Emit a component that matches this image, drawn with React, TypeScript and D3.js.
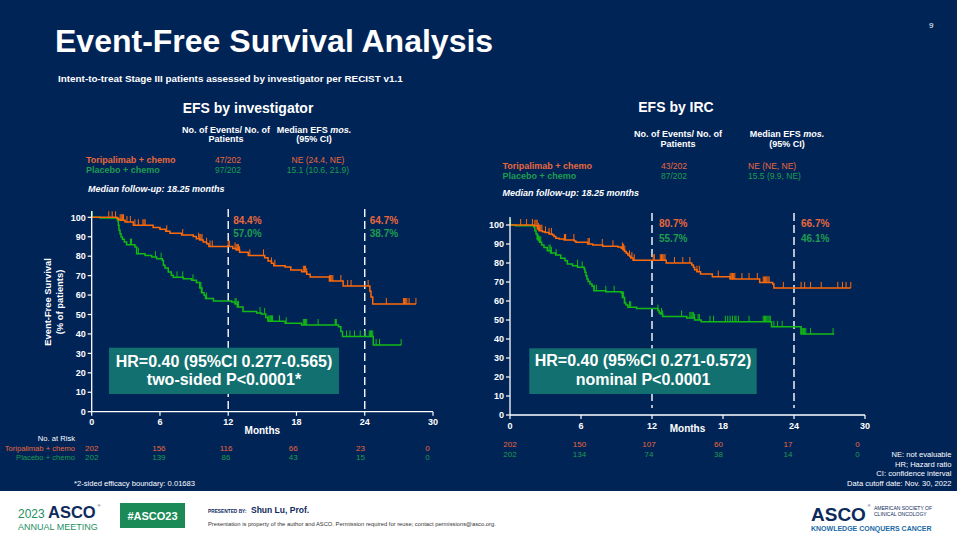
import React from "react";
import * as d3 from "d3";

const W = 957;
const H = 538;
const FONT = "'Liberation Sans', Arial, Helvetica, sans-serif";

const NAVY = "#012457";
const ORANGE_LINE = "#ff6a0a";
const GREEN_LINE = "#14ba14";
const ORANGE_TXT = "#e8683c";
const GREEN_TXT = "#1f9c4f";
const TEAL = "#137070";

const monthTicks = [0, 6, 12, 18, 24, 30];
const pctTicks = [0, 10, 20, 30, 40, 50, 60, 70, 80, 90, 100];
const landmarkMonths = [12, 24];

// ---------- EFS by investigator ----------
const invToriSteps: [number, number][] = [
  [0, 100], [2.2, 99.7], [2.34, 99], [2.49, 98.5], [2.93, 97.6], [3.66, 95.9], [5.4, 94.7], [6.0, 93.8],
  [6.5, 92.8], [6.88, 91.8], [7.9, 90.9], [8.93, 90.1], [9.2, 89], [9.5, 88.3], [9.8, 87.3], [10.1, 86.4],
  [10.3, 85.0], [12.4, 84.0], [12.7, 83.2], [13.0, 82.0], [13.76, 80.4], [15.2, 79.2], [15.5, 77.5],
  [15.8, 76.3], [16.0, 75.1], [17.0, 74.4], [17.5, 72.9], [18.45, 72.0], [18.9, 70.7], [19.2, 69.3],
  [20.9, 67.2], [22.1, 64.7], [24.45, 62.0], [24.55, 59.0], [24.7, 55.4], [28.5, 55.4],
];
const invPlaceboSteps: [number, number][] = [
  [0, 100], [0.74, 99.6], [2.25, 98.5], [2.34, 95.9], [2.4, 93.3], [2.49, 91.6], [2.58, 89.9], [2.7, 88.7],
  [2.87, 87.3], [3.07, 85.9], [3.8, 84.7], [3.95, 81.3], [4.69, 80.4], [5.27, 79.6], [5.71, 78.7], [6.2, 77.9],
  [6.3, 75.3], [6.44, 73.9], [6.73, 71.9], [7.0, 70.2], [7.17, 69.1], [8.05, 68.4], [8.78, 67.6], [9.2, 66.4],
  [9.5, 63.6], [9.65, 61.2], [9.88, 59.9], [10.0, 58.2], [10.7, 57.0], [12.3, 56.4], [12.6, 55.4], [12.8, 53.9],
  [13.3, 51.6], [14.5, 50.8], [14.9, 50.2], [15.3, 48.4], [15.5, 46.5], [17.0, 45.5], [18.45, 44.6],
  [21.7, 43.7], [21.9, 41.2], [22.05, 38.7], [24.75, 34.3], [27.2, 34.3],
];
const invToriCensor = [
  1.5, 1.8, 2.1, 2.5, 2.6, 2.7, 2.8, 3.1, 3.4, 3.8, 4.1, 4.5, 4.6, 4.7, 6.6, 8.0, 9.4, 9.5, 9.6, 9.7, 10.1,
  10.4, 10.6, 12.0, 12.1, 12.6, 12.7, 12.8, 12.9, 13.0, 13.9, 15.1, 15.8, 16.1, 18.6, 18.7, 18.8, 18.9, 20.9,
  21.0, 21.1, 21.2, 21.9, 22.5, 22.8, 24.3, 25.9, 27.4, 27.5, 27.6, 27.7, 27.9, 28.5,
];
const invPlaceboCensor = [
  0.05, 3.4, 3.45, 3.5, 4.1, 5.6, 6.1, 7.5, 8.0, 8.9, 9.5, 9.6, 9.7, 10.1, 12.6, 12.7, 12.8, 12.9, 14.8, 15.2,
  15.5, 15.6, 15.7, 15.8, 15.9, 16.5, 17.1, 18.6, 18.7, 18.8, 18.9, 19.9, 21.4, 21.45, 21.5, 22.4, 22.7, 23.1,
  23.6, 24.0, 24.4, 24.5, 24.6, 24.7, 25.0, 25.3, 27.2,
];
const invLandmarkTori = ["84.4%", "64.7%"];
const invLandmarkPlacebo = ["57.0%", "38.7%"];
const invAtRiskTori = [202, 156, 116, 66, 23, 0];
const invAtRiskPlacebo = [202, 139, 86, 43, 15, 0];
const invHr = ["HR=0.40 (95%CI 0.277-0.565)", "two-sided P<0.0001*"];

// ---------- EFS by IRC ----------
const ircToriSteps: [number, number][] = [
  [0, 100], [2.03, 99.6], [2.31, 97.9], [2.45, 97], [2.74, 96.5], [2.96, 96.1], [3.3, 95.3], [3.58, 94.7],
  [3.72, 94], [3.87, 93], [4.15, 92.6], [4.58, 92.1], [5.43, 91.6], [5.57, 90.9], [6.56, 90], [6.99, 89.5],
  [7.84, 88.8], [9.11, 88.4], [9.4, 87.7], [9.53, 87], [9.67, 86], [9.82, 85.1], [9.96, 84.2], [10.1, 83.5],
  [10.2, 82.6], [10.4, 81.5], [13.2, 80.0], [15.36, 79], [15.5, 77.7], [15.6, 76.5], [15.8, 75.4],
  [16.1, 74.2], [17.1, 72.8], [18.6, 71.6], [21.1, 69.8], [22.2, 69], [22.3, 66.9], [28.8, 66.9],
];
const ircPlaceboSteps: [number, number][] = [
  [0, 100], [0.47, 99.6], [2.03, 98.8], [2.1, 97], [2.2, 95.3], [2.3, 92.6], [2.4, 91.8], [2.5, 90.9],
  [2.67, 89.5], [2.87, 88.2], [3.15, 86.5], [3.43, 85.3], [3.86, 84.2], [4.29, 82.5], [4.65, 81.2],
  [4.85, 79.5], [5.28, 78.6], [5.71, 77.7], [6.27, 76.8], [6.33, 75.1], [6.42, 73.3], [6.5, 71.6], [6.6, 70.2],
  [6.76, 68.9], [6.93, 67.7], [7.1, 65.4], [8.1, 64.9], [9.4, 64.2], [9.5, 61.9], [9.67, 58.9], [9.8, 57.9],
  [9.96, 56.7], [10.7, 56.0], [12.5, 55.0], [12.6, 54.0], [12.7, 53.2], [12.9, 51.9], [14.94, 51.1],
  [15.6, 50], [16.15, 49.1], [22.1, 46.4], [24.6, 42.6], [27.4, 42.6],
];
const ircToriCensor = [
  0.9, 1.4, 1.9, 2.1, 2.2, 2.3, 2.4, 2.5, 2.6, 2.7, 3.0, 3.3, 3.5, 4.6, 4.65, 4.7, 5.4, 6.6, 6.7, 7.8, 8.7, 9.5,
  9.6, 9.7, 10.1, 10.3, 10.5, 12.1, 12.2, 12.7, 12.8, 12.9, 13.0, 13.1, 13.9, 14.6, 15.2, 15.8, 16.0, 17.6,
  18.6, 18.7, 18.8, 18.9, 19.0, 19.6, 20.2, 20.9, 21.4, 21.5, 21.6, 21.7, 21.8, 21.9, 23.1, 24.6, 24.9, 25.4,
  26.3, 27.7, 28.1, 28.4, 28.8,
];
const ircPlaceboCensor = [
  0.05, 2.4, 2.5, 2.6, 3.3, 3.4, 3.5, 3.9, 5.7, 6.1, 7.1, 7.3, 8.1, 8.8, 9.5, 9.6, 9.7, 10.1, 10.2, 12.5, 12.8,
  12.9, 14.5, 15.2, 15.3, 15.4, 15.5, 15.6, 15.9, 16.0, 16.9, 17.2, 18.2, 18.4, 18.6, 18.8, 19.0, 19.1, 19.3,
  20.2, 21.4, 21.5, 21.6, 21.7, 21.8, 21.9, 22.0, 22.3, 22.6, 23.0, 24.6, 24.7, 24.8, 24.9, 25.0, 25.4, 27.3,
];
const ircLandmarkTori = ["80.7%", "66.7%"];
const ircLandmarkPlacebo = ["55.7%", "46.1%"];
const ircAtRiskTori = [202, 150, 107, 60, 17, 0];
const ircAtRiskPlacebo = [202, 134, 74, 38, 14, 0];
const ircHr = ["HR=0.40 (95%CI 0.271-0.572)", "nominal P<0.0001"];

const survAt = (steps: [number, number][], t: number) => {
  let s = steps[0][1];
  for (const [m, v] of steps) {
    if (m <= t + 1e-9) s = v;
    else break;
  }
  return s;
};

type PanelProps = {
  xr: [number, number];
  yr: [number, number];
  axisTop: number;
  dashTop: number;
  dashBottom: number;
  tori: [number, number][];
  placebo: [number, number][];
  toriC: number[];
  placeboC: number[];
  lmTori: string[];
  lmPlacebo: string[];
  lmY: [number, number];
  lmDx: number;
  hr: string[];
  box: { x: number; y: number; w: number; h: number; b1: number; b2: number };
  monthsY: number;
  atTori: number[];
  atPlacebo: number[];
  atY: [number, number];
  atShift: number;
};

function Panel(p: PanelProps) {
  const x = d3.scaleLinear().domain([0, 30]).range(p.xr);
  const y = d3.scaleLinear().domain([0, 100]).range(p.yr);
  const line = d3
    .line<[number, number]>()
    .x((d) => x(d[0]))
    .y((d) => y(d[1]))
    .curve(d3.curveStepAfter);
  const censor = (steps: [number, number][], cs: number[], color: string) =>
    cs.map((c, i) => {
      const yy = y(survAt(steps, c));
      return <line key={i} x1={x(c)} x2={x(c)} y1={yy} y2={yy - 6} stroke={color} strokeWidth={1} />;
    });
  const x0 = p.xr[0];
  const yBase = p.yr[0];
  return (
    <g>
      {landmarkMonths.map((m) => (
        <line key={m} x1={x(m)} x2={x(m)} y1={p.dashTop} y2={p.dashBottom} stroke="#fff" strokeWidth={1.4} strokeDasharray="8,4" />
      ))}
      <rect x={p.box.x} y={p.box.y} width={p.box.w} height={p.box.h} fill={TEAL} />
      <text x={p.box.x + p.box.w / 2} y={p.box.b1} textAnchor="middle" fill="#fff" fontSize={16} fontWeight="bold">{p.hr[0]}</text>
      <text x={p.box.x + p.box.w / 2} y={p.box.b2} textAnchor="middle" fill="#fff" fontSize={16} fontWeight="bold">{p.hr[1]}</text>
      <path d={line(p.placebo) || ""} fill="none" stroke={GREEN_LINE} strokeWidth={1.5} />
      {censor(p.placebo, p.placeboC, GREEN_LINE)}
      <path d={line(p.tori) || ""} fill="none" stroke={ORANGE_LINE} strokeWidth={1.5} />
      {censor(p.tori, p.toriC, ORANGE_LINE)}
      <line x1={x0} x2={x0} y1={p.axisTop} y2={yBase} stroke="#fff" strokeWidth={1.3} />
      <line x1={x0} x2={p.xr[1]} y1={yBase} y2={yBase} stroke="#fff" strokeWidth={1.3} />
      {pctTicks.map((t) => (
        <g key={t}>
          <line x1={x0 - 4} x2={x0} y1={y(t)} y2={y(t)} stroke="#fff" strokeWidth={1.2} />
          <text x={x0 - 6} y={y(t) + 3.2} textAnchor="end" fill="#fff" fontSize={9} fontWeight="bold">{t}</text>
        </g>
      ))}
      {monthTicks.map((t) => (
        <g key={t}>
          <line x1={x(t)} x2={x(t)} y1={yBase} y2={yBase + 4} stroke="#fff" strokeWidth={1.2} />
          <text x={x(t)} y={yBase + 13.5} textAnchor="middle" fill="#fff" fontSize={9} fontWeight="bold">{t}</text>
        </g>
      ))}
      <text x={x(12) + 0.5 * (x(18) - x(12))} y={p.monthsY} textAnchor="middle" fill="#fff" fontSize={10} fontWeight="bold">Months</text>
      {landmarkMonths.map((m, i) => (
        <g key={m}>
          <text x={x(m) + p.lmDx} y={p.lmY[0]} fill={ORANGE_TXT} fontSize={10} fontWeight="bold">{p.lmTori[i]}</text>
          <text x={x(m) + p.lmDx} y={p.lmY[1]} fill={GREEN_TXT} fontSize={10} fontWeight="bold">{p.lmPlacebo[i]}</text>
        </g>
      ))}
      {monthTicks.map((m, i) => (
        <g key={m}>
          <text x={x(m) - m * p.atShift} y={p.atY[0]} textAnchor="middle" fill={ORANGE_TXT} fontSize={8}>{p.atTori[i]}</text>
          <text x={x(m) - m * p.atShift} y={p.atY[1]} textAnchor="middle" fill={GREEN_TXT} fontSize={8}>{p.atPlacebo[i]}</text>
        </g>
      ))}
    </g>
  );
}

export default function App() {
  return (
    <svg
      width={W}
      height={H}
      viewBox={`0 0 ${W} ${H}`}
      style={{ position: "absolute", left: 0, top: 0, display: "block" }}
      fontFamily={FONT}
    >
      <rect x={0} y={0} width={W} height={H} fill={NAVY} />
      <text x={55} y={51.5} fill="#fff" fontSize={32} fontWeight="bold">Event-Free Survival Analysis</text>
      <text x={929} y={28} fill="#fff" fontSize={8}>9</text>
      <text x={58} y={81.5} fill="#fff" fontSize={9.9} fontWeight="bold">Intent-to-treat Stage III patients assessed by investigator per RECIST v1.1</text>

      {/* Left header table */}
      <text x={248} y={113.3} textAnchor="middle" fill="#fff" fontSize={14} fontWeight="bold">EFS by investigator</text>
      <text x={226} y={132.7} textAnchor="middle" fill="#fff" fontSize={9} fontWeight="bold">No. of Events/ No. of</text>
      <text x={226} y={141.7} textAnchor="middle" fill="#fff" fontSize={9} fontWeight="bold">Patients</text>
      <text x={314} y={132.7} textAnchor="middle" fill="#fff" fontSize={9} fontWeight="bold">Median EFS <tspan fontStyle="italic">mos.</tspan></text>
      <text x={314} y={141.7} textAnchor="middle" fill="#fff" fontSize={9} fontWeight="bold">(95% CI)</text>
      <text x={86} y={163.3} fill={ORANGE_TXT} fontSize={9} fontWeight="bold">Toripalimab + chemo</text>
      <text x={86} y={173.3} fill={GREEN_TXT} fontSize={9} fontWeight="bold">Placebo + chemo</text>
      <text x={228} y={163.3} textAnchor="middle" fill={ORANGE_TXT} fontSize={8.5}>47/202</text>
      <text x={228} y={173.3} textAnchor="middle" fill={GREEN_TXT} fontSize={8.5}>97/202</text>
      <text x={318} y={163.3} textAnchor="middle" fill={ORANGE_TXT} fontSize={8.5}>NE (24.4, NE)</text>
      <text x={318} y={173.3} textAnchor="middle" fill={GREEN_TXT} fontSize={8.5}>15.1 (10.6, 21.9)</text>
      <text x={88} y={191.7} fill="#fff" fontSize={9} fontWeight="bold" fontStyle="italic">Median follow-up: 18.25 months</text>

      {/* Right header table */}
      <text x={676} y={111.7} textAnchor="middle" fill="#fff" fontSize={14} fontWeight="bold">EFS by IRC</text>
      <text x={678} y={136.7} textAnchor="middle" fill="#fff" fontSize={9} fontWeight="bold">No. of Events/ No. of</text>
      <text x={678} y={146.7} textAnchor="middle" fill="#fff" fontSize={9} fontWeight="bold">Patients</text>
      <text x={787} y={136.7} textAnchor="middle" fill="#fff" fontSize={9} fontWeight="bold">Median EFS <tspan fontStyle="italic">mos.</tspan></text>
      <text x={787} y={146.7} textAnchor="middle" fill="#fff" fontSize={9} fontWeight="bold">(95% CI)</text>
      <text x={502.5} y={169.3} fill={ORANGE_TXT} fontSize={9} fontWeight="bold">Toripalimab + chemo</text>
      <text x={502.5} y={179.3} fill={GREEN_TXT} fontSize={9} fontWeight="bold">Placebo + chemo</text>
      <text x={674} y={169.3} textAnchor="middle" fill={ORANGE_TXT} fontSize={8.5}>43/202</text>
      <text x={674} y={179.3} textAnchor="middle" fill={GREEN_TXT} fontSize={8.5}>87/202</text>
      <text x={748} y={169.3} fill={ORANGE_TXT} fontSize={8.5}>NE (NE, NE)</text>
      <text x={748} y={179.3} fill={GREEN_TXT} fontSize={8.5}>15.5 (9.9, NE)</text>
      <text x={502.5} y={196} fill="#fff" fontSize={9} fontWeight="bold" fontStyle="italic">Median follow-up: 18.25 months</text>

      {/* Left panel */}
      <text transform="translate(50.5,302) rotate(-90)" textAnchor="middle" fill="#fff" fontSize={9.4} fontWeight="bold">Event-Free Survival</text>
      <text transform="translate(63,302) rotate(-90)" textAnchor="middle" fill="#fff" fontSize={9.4} fontWeight="bold">(% of patients)</text>
      <Panel
        xr={[91.7, 433]}
        yr={[411.7, 217.3]}
        axisTop={211}
        dashTop={209}
        dashBottom={411}
        tori={invToriSteps}
        placebo={invPlaceboSteps}
        toriC={invToriCensor}
        placeboC={invPlaceboCensor}
        lmTori={invLandmarkTori}
        lmPlacebo={invLandmarkPlacebo}
        lmY={[224, 237]}
        lmDx={5}
        hr={invHr}
        box={{ x: 109, y: 347.7, w: 230, h: 46.3, b1: 366.5, b2: 385 }}
        monthsY={433.5}
        atTori={invAtRiskTori}
        atPlacebo={invAtRiskPlacebo}
        atY={[450.7, 460]}
        atShift={0.18}
      />
      <text x={75} y={441} textAnchor="end" fill="#fff" fontSize={7.6}>No. at Risk</text>
      <text x={75} y={450.7} textAnchor="end" fill={ORANGE_TXT} fontSize={7.6}>Toripalimab + chemo</text>
      <text x={75} y={460} textAnchor="end" fill={GREEN_TXT} fontSize={7.6}>Placebo + chemo</text>
      <text x={74} y={486} fill="#fff" fontSize={7.6}>*2-sided efficacy boundary: 0.01683</text>

      {/* Right panel */}
      <Panel
        xr={[510, 865]}
        yr={[415, 225]}
        axisTop={217}
        dashTop={213}
        dashBottom={408}
        tori={ircToriSteps}
        placebo={ircPlaceboSteps}
        toriC={ircToriCensor}
        placeboC={ircPlaceboCensor}
        lmTori={ircLandmarkTori}
        lmPlacebo={ircLandmarkPlacebo}
        lmY={[227, 242]}
        lmDx={7}
        hr={ircHr}
        box={{ x: 529.3, y: 348.3, w: 227.4, h: 45.7, b1: 365.5, b2: 385 }}
        monthsY={432}
        atTori={ircAtRiskTori}
        atPlacebo={ircAtRiskPlacebo}
        atY={[447.3, 456.7]}
        atShift={0.25}
      />
      <text x={951.5} y={457.3} textAnchor="end" fill="#fff" fontSize={7.6}>NE: not evaluable</text>
      <text x={951.5} y={466.7} textAnchor="end" fill="#fff" fontSize={7.6}>HR; Hazard ratio</text>
      <text x={951.5} y={476.3} textAnchor="end" fill="#fff" fontSize={7.6}>CI: confidence interval</text>
      <text x={951.5} y={486} textAnchor="end" fill="#fff" fontSize={7.6}>Data cutoff date: Nov. 30, 2022</text>

      {/* Footer */}
      <rect x={0} y={491} width={W} height={H - 491} fill="#fff" />
      <text x={18} y={518} fill="#1d8f5f" fontSize={12}>2023</text>
      <text x={48} y={518} fill="#0d2a5c" fontSize={16.5} fontWeight="bold">ASCO</text>
      <text x={97.5} y={507} fill="#0d2a5c" fontSize={4}>®</text>
      <text x={18} y={529.5} fill="#1d8f5f" fontSize={9}>ANNUAL MEETING</text>
      <rect x={120} y={503} width={65} height={25} fill="#1b8a57" />
      <text x={152.5} y={519.5} textAnchor="middle" fill="#fff" fontSize={11} fontWeight="bold">#ASCO23</text>
      <text x={208} y={513} fill="#0d2a5c" fontSize={4.8} fontWeight="bold">PRESENTED BY:</text>
      <text x={251} y={513} fill="#0d2a5c" fontSize={8.5} fontWeight="bold">Shun Lu, Prof.</text>
      <text x={208} y={526} fill="#333" fontSize={5.8}>Presentation is property of the author and ASCO. Permission required for reuse; contact permissions@asco.org.</text>
      <text x={811} y={521} fill="#0d2a5c" fontSize={19} fontWeight="bold">ASCO</text>
      <text x={867.5} y={507} fill="#0d2a5c" fontSize={4}>®</text>
      <text x={874} y={509.5} fill="#0d2a5c" fontSize={5}>AMERICAN SOCIETY OF</text>
      <text x={874} y={516} fill="#0d2a5c" fontSize={5}>CLINICAL ONCOLOGY</text>
      <text x={811} y={531} fill="#1a6aa8" fontSize={7} fontWeight="bold">KNOWLEDGE CONQUERS CANCER</text>
    </svg>
  );
}
